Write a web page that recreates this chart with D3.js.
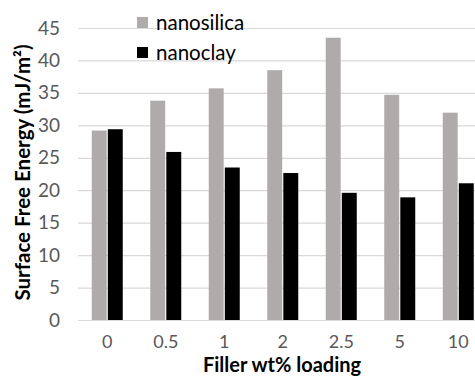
<!DOCTYPE html>
<html>
<head>
<meta charset="utf-8">
<script src="https://cdn.jsdelivr.net/npm/d3@7"></script>
<style>
  body { margin: 0; background: #fff; }
  text { font-family: Lato, 'Open Sans', sans-serif; }
</style>
</head>
<body>
<div id="chart"></div>
<script>
const categories = ['0', '0.5', '1', '2', '2.5', '5', '10']
const seriesNames = ['nanosilica', 'nanoclay']
const nanosilica = [29.2, 33.8, 35.7, 38.5, 43.5, 34.7, 31.95]
const nanoclay = [29.4, 25.9, 23.5, 22.65, 19.6, 18.9, 21.07]
const yTicks = [0, 5, 10, 15, 20, 25, 30, 35, 40, 45]

const colors = { nanosilica: '#afabab', nanoclay: '#000000' }

const svg = d3
  .select('#chart')
  .append('svg')
  .attr('width', 475)
  .attr('height', 376)

const xPositionScale = d3
  .scaleBand()
  .domain(categories)
  .range([78, 487.5])

const innerScale = d3
  .scaleBand()
  .domain(seriesNames)
  .range([0, 31])
  .paddingInner(0.07)

const yPositionScale = d3
  .scaleLinear()
  .domain([0, 45])
  .range([320, 28])

// gridlines + y labels
const yAxis = d3
  .axisLeft(yPositionScale)
  .tickValues(yTicks)
  .tickSize(-(487.5 - 78))
  .tickPadding(18)
svg
  .append('g')
  .attr('class', 'axis y-axis')
  .attr('transform', 'translate(78,0)')
  .call(yAxis)

svg.selectAll('.y-axis path').remove()
svg.selectAll('.y-axis line').attr('stroke', '#d9d9d9').attr('stroke-width', 1.2)
svg
  .selectAll('.y-axis text')
  .attr('font-size', 19)
  .attr('fill', '#595959')
  .style('font-family', 'Lato, sans-serif')

const datapoints = categories.map((c, i) => ({
  cat: c,
  values: [
    { name: 'nanosilica', value: nanosilica[i] },
    { name: 'nanoclay', value: nanoclay[i] }
  ]
}))

const groupOffset = (xPositionScale.bandwidth() - 31) / 2

const groups = svg
  .selectAll('.group')
  .data(datapoints)
  .enter()
  .append('g')
  .attr('class', 'group')
  .attr('transform', d => 'translate(' + (xPositionScale(d.cat) + groupOffset) + ',0)')

groups
  .selectAll('rect')
  .data(d => d.values)
  .enter()
  .append('rect')
  .attr('x', d => innerScale(d.name))
  .attr('width', innerScale.bandwidth())
  .attr('y', d => yPositionScale(d.value))
  .attr('height', d => yPositionScale(0) - yPositionScale(d.value))
  .attr('fill', d => colors[d.name])

// x labels
const xAxis = d3.axisBottom(xPositionScale).tickSize(0).tickPadding(15)
svg
  .append('g')
  .attr('class', 'axis x-axis')
  .attr('transform', 'translate(0,320)')
  .call(xAxis)
svg.selectAll('.x-axis path').remove()
svg
  .selectAll('.x-axis text')
  .attr('font-size', 18)
  .attr('fill', '#595959')
  .style('font-family', 'Lato, sans-serif')

// axis titles
svg
  .append('text')
  .text('Filler wt% loading')
  .attr('x', 282)
  .attr('y', 372)
  .attr('text-anchor', 'middle')
  .attr('font-size', 20)
  .attr('font-weight', 'bold')
  .attr('fill', '#000')

svg
  .append('text')
  .text('Surface Free Energy (mJ/m²)')
  .attr('transform', 'translate(30,172.5) rotate(-90)')
  .attr('text-anchor', 'middle')
  .attr('font-size', 20.5)
  .attr('font-weight', 'bold')
  .attr('fill', '#000')

// legend
const legend = svg
  .selectAll('.legend')
  .data(seriesNames)
  .enter()
  .append('g')
  .attr('class', 'legend')
  .attr('transform', (d, i) => 'translate(137,' + (17 + i * 30) + ')')

legend
  .append('rect')
  .attr('width', 11)
  .attr('height', 11)
  .attr('fill', d => colors[d])

legend
  .append('text')
  .text(d => d)
  .attr('x', 19)
  .attr('y', 5.5)
  .attr('dy', '0.35em')
  .attr('font-size', 20.5)
  .attr('fill', '#000')
</script>
</body>
</html>
